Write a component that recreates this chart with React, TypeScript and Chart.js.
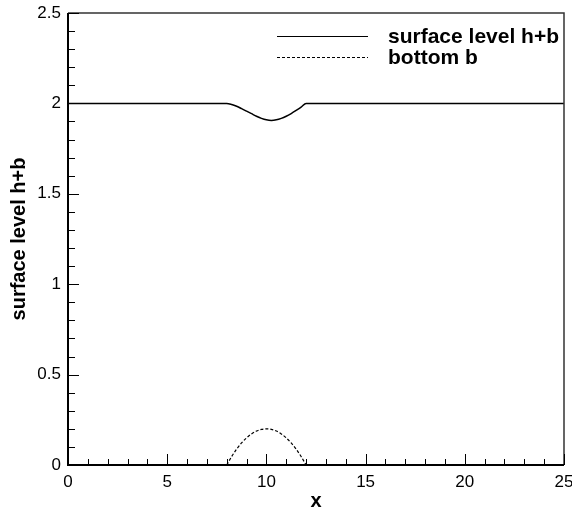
import React, { useEffect, useRef } from "react";
import { Chart, registerables } from "chart.js";

Chart.register(...registerables);

const surfaceLabel = "surface level h+b";
const bottomLabel = "bottom b";

const surfaceX = [0, 8, 8.25, 8.5, 8.75, 9, 9.25, 9.5, 9.75, 10, 10.25, 10.5, 10.75, 11, 11.25, 11.5, 11.75, 12, 25];
const surfaceY = [2.0, 2.0, 1.994, 1.984, 1.971, 1.957, 1.943, 1.929, 1.917, 1.909, 1.906, 1.909, 1.917, 1.929, 1.944, 1.961, 1.979, 2.0, 2.0];

const bottomX = [8, 8.25, 8.5, 8.75, 9, 9.25, 9.5, 9.75, 10, 10.25, 10.5, 10.75, 11, 11.25, 11.5, 11.75, 12];
const bottomY = [0, 0.047, 0.088, 0.122, 0.15, 0.172, 0.188, 0.197, 0.2, 0.197, 0.188, 0.172, 0.15, 0.122, 0.088, 0.047, 0];

const xTickValues = [0, 5, 10, 15, 20, 25];
const xTickLabels = ["0", "5", "10", "15", "20", "25"];
const yTickValues = [0, 0.5, 1, 1.5, 2, 2.5];
const yTickLabels = ["0", "0.5", "1", "1.5", "2", "2.5"];
const xMinorStep = 1;
const yMinorStep = 0.1;

const xTitle = "x";
const yTitle = "surface level h+b";

const FONT = "'Liberation Sans', Arial, Helvetica, sans-serif";

const framePlugin = {
  id: "framePlugin",
  afterDraw(chart: any) {
    const { ctx, chartArea, scales } = chart;
    const { left, right, top, bottom } = chartArea;
    const xs = scales.x;
    const ys = scales.y;
    ctx.save();
    ctx.strokeStyle = "#333";
    ctx.lineWidth = 1.5;
    ctx.beginPath();
    ctx.moveTo(left, top);
    ctx.lineTo(right, top);
    ctx.lineTo(right, bottom);
    ctx.stroke();
    ctx.strokeStyle = "#000";
    ctx.lineWidth = 2;
    ctx.beginPath();
    ctx.moveTo(left, top);
    ctx.lineTo(left, bottom);
    ctx.lineTo(right, bottom);
    ctx.stroke();
    ctx.lineWidth = 1;
    ctx.strokeStyle = "#000";
    ctx.beginPath();
    const nx = Math.round((xs.max - xs.min) / xMinorStep);
    for (let i = 0; i <= nx; i++) {
      const v = xs.min + i * xMinorStep;
      const px = Math.round(xs.getPixelForValue(v)) + 0.5;
      const major = xTickValues.some((t) => Math.abs(t - v) < 1e-9);
      const len = major ? 11 : 6;
      ctx.moveTo(px, bottom);
      ctx.lineTo(px, bottom - len);
    }
    const ny = Math.round((ys.max - ys.min) / yMinorStep);
    for (let i = 0; i <= ny; i++) {
      const v = ys.min + i * yMinorStep;
      const py = Math.round(ys.getPixelForValue(v)) + 0.5;
      const major = yTickValues.some((t) => Math.abs(t - v) < 1e-9);
      const len = major ? 11 : 7;
      ctx.moveTo(left, py);
      ctx.lineTo(left + len, py);
    }
    ctx.stroke();
    const items = [
      { label: chart.data.datasets[0].label, dash: [] as number[], y: 36 },
      { label: chart.data.datasets[1].label, dash: [3, 2], y: 57 },
    ];
    ctx.font = `bold 21px ${FONT}`;
    ctx.textBaseline = "middle";
    ctx.textAlign = "left";
    ctx.fillStyle = "#000";
    for (const it of items) {
      ctx.setLineDash(it.dash);
      ctx.lineWidth = 1.2;
      ctx.beginPath();
      ctx.moveTo(277, it.y + 0.5);
      ctx.lineTo(368, it.y + 0.5);
      ctx.stroke();
      ctx.setLineDash([]);
      ctx.fillText(it.label, 388, it.y + 1);
    }
    ctx.restore();
  },
};

export default function App() {
  const ref = useRef<HTMLCanvasElement | null>(null);
  useEffect(() => {
    if (!ref.current) return;
    const chart = new Chart(ref.current, {
      type: "line",
      data: {
        datasets: [
          {
            label: surfaceLabel,
            data: surfaceX.map((x, i) => ({ x, y: surfaceY[i] })),
            borderColor: "#000",
            borderWidth: 1.5,
            pointRadius: 0,
            cubicInterpolationMode: "monotone",
            fill: false,
          },
          {
            label: bottomLabel,
            data: bottomX.map((x, i) => ({ x, y: bottomY[i] })),
            borderColor: "#000",
            borderWidth: 1.2,
            borderDash: [3, 2],
            pointRadius: 0,
            cubicInterpolationMode: "monotone",
            fill: false,
          },
        ],
      },
      options: {
        animation: false,
        responsive: false,
        maintainAspectRatio: false,
        layout: { padding: { left: 0, top: 13, right: 8, bottom: 0 } },
        plugins: { legend: { display: false }, tooltip: { enabled: false } },
        scales: {
          x: {
            type: "linear",
            min: 0,
            max: 25,
            grid: { display: false, drawTicks: false },
            border: { display: false },
            afterBuildTicks: (s: any) => {
              s.ticks = xTickValues.map((v) => ({ value: v }));
            },
            afterFit: (s: any) => {
              s.height = 47;
              s.paddingRight = 0;
              s.paddingLeft = 0;
            },
            ticks: {
              color: "#000",
              font: { family: FONT, size: 17 },
              padding: 7,
              maxRotation: 0,
              callback: (v: any) => {
                const i = xTickValues.indexOf(Number(v));
                return i >= 0 ? xTickLabels[i] : "";
              },
            },
            title: {
              display: true,
              text: xTitle,
              color: "#000",
              font: { family: FONT, size: 20, weight: "bold" },
              padding: { top: 0, bottom: -1 },
            },
          },
          y: {
            type: "linear",
            min: 0,
            max: 2.5,
            grid: { display: false, drawTicks: false },
            border: { display: false },
            afterBuildTicks: (s: any) => {
              s.ticks = yTickValues.map((v) => ({ value: v }));
            },
            afterFit: (s: any) => {
              s.width = 68;
              s.paddingTop = 0;
              s.paddingBottom = 0;
            },
            ticks: {
              color: "#000",
              font: { family: FONT, size: 17 },
              padding: 7,
              callback: (v: any) => {
                const i = yTickValues.indexOf(Number(v));
                return i >= 0 ? yTickLabels[i] : "";
              },
            },
            title: {
              display: true,
              text: yTitle,
              color: "#000",
              font: { family: FONT, size: 20, weight: "bold" },
              padding: { top: 7, bottom: 0 },
            },
          },
        },
      },
      plugins: [framePlugin],
    });
    return () => chart.destroy();
  }, []);
  return (
    <div style={{ position: "absolute", left: 0, top: 0, width: 572, height: 512, background: "#fff" }}>
      <canvas ref={ref} width={572} height={512} style={{ display: "block" }} />
    </div>
  );
}
